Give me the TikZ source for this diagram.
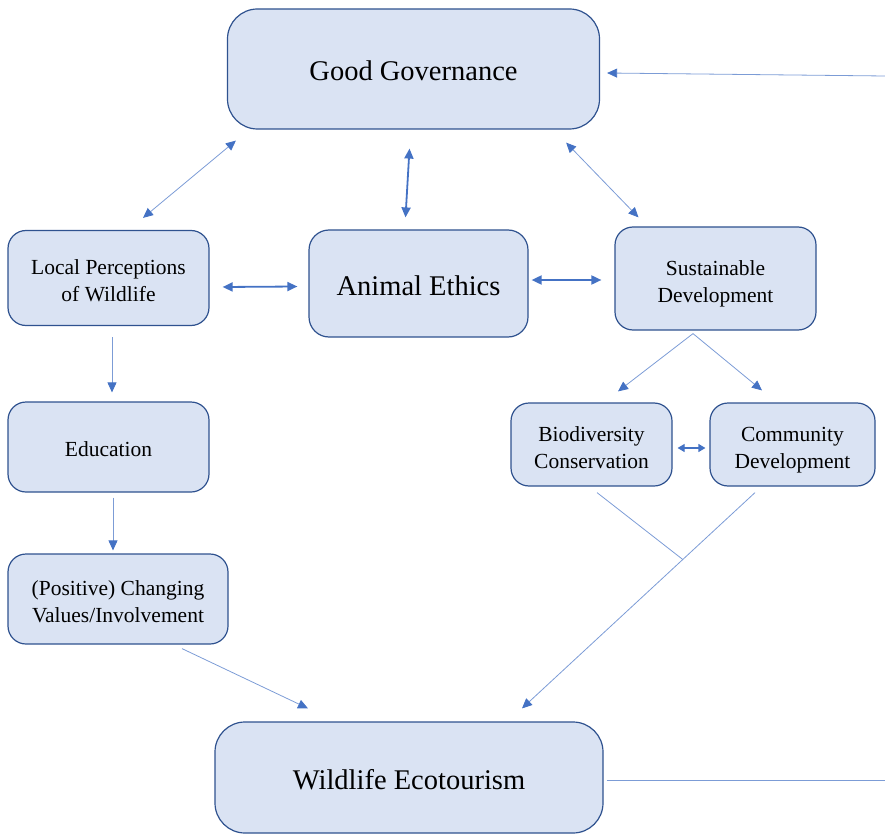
\documentclass[tikz,border=0pt]{standalone}
\usepackage{fontspec}
\setmainfont{Liberation Serif}
\usetikzlibrary{arrows.meta,calc}
\definecolor{boxfill}{HTML}{DAE3F3}
\definecolor{boxline}{HTML}{2F528F}
\definecolor{arrowblue}{HTML}{4472C4}
\begin{document}
\begin{tikzpicture}[x=1pt,y=-1pt]
\tikzset{box/.style = {shape=rectangle,rounded corners=18pt,draw=boxline,fill=boxfill,line width=1.2pt,inner sep=0pt,align=center,text height=20pt,font=\fontsize{21.5}{27}\selectfont}}
\tikzset{twoline/.style = {box,text height=52pt,text depth=5pt}}
\tikzset{bigbox/.style = {box,rounded corners=30pt,text height=24pt,font=\fontsize{28.5}{34}\selectfont}}
\tikzset{edge/.style = {draw=arrowblue!70,line width=0.8pt,-{Triangle[length=10pt,width=9pt,color=arrowblue]}}}
\tikzset{biedge/.style = {edge,{Triangle[length=10pt,width=9pt,color=arrowblue]}-{Triangle[length=10pt,width=9pt,color=arrowblue]}}}
\tikzset{thickedge/.style = {biedge,draw=arrowblue,line width=1.8pt}}
\useasboundingbox (0,0) rectangle (885,834);
\node[bigbox,minimum width=372,minimum height=120] (gg) at (413.5,69) {Good Governance};
\node[twoline,minimum width=201,minimum height=95] (lp) at (108.5,278) {Local Perceptions\\of Wildlife};
\node[bigbox,rounded corners=20pt,minimum width=219,minimum height=107] (ae) at (418.5,283.5) {Animal Ethics};
\node[twoline,minimum width=201,minimum height=103] (sd) at (715.5,278.5) {Sustainable\\Development};
\node[box,minimum width=201,minimum height=90] (edu) at (108.5,447) {Education};
\node[twoline,minimum width=220,minimum height=90] (pcv) at (118,599) {(Positive) Changing\\Values/Involvement};
\node[twoline,minimum width=161,minimum height=83] (bc) at (591.5,444.5) {Biodiversity\\Conservation};
\node[twoline,minimum width=165,minimum height=83] (cd) at (792.5,444.5) {Community\\Development};
\node[bigbox,minimum width=388,minimum height=111] (we) at (409,777.5) {Wildlife Ecotourism};
% loose ends on the right
\coordinate (ggin) at (885,76);
\coordinate (weout) at (885,780);
% ends of the lines into Wildlife Ecotourism
\coordinate (cdout) at ($(cd.south)+(-37.5,6)$);
\coordinate (wein) at ($(we.north)+(113,-13)$);
\coordinate (join) at ($(cdout)!0.31!(wein)$);
\draw[biedge] ($(gg.south west)+(9,11)$) -- ($(lp.north)+(34.5,-12)$);
\draw[thickedge] ($(gg.south)+(-4,19)$) -- ($(ae.north)+(-13,-12)$);
\draw[biedge] ($(gg.south east)+(-34,13)$) -- ($(sd.north)+(-77,-9)$);
\draw[edge] (ggin) -- ($(gg.east)+(7,4)$);
\draw[thickedge] ($(lp.east)+(13,9)$) -- ($(ae.west)+(-11,3)$);
\draw[thickedge] ($(ae.east)+(3,-3.5)$) -- ($(sd.west)+(-13,1.5)$);
\draw[edge] ($(lp.south)+(3.5,11)$) -- ($(edu.north)+(3.5,-9)$);
\draw[edge] ($(edu.south)+(4.5,5)$) -- ($(pcv.north)+(-5,-3)$);
\draw[edge] ($(pcv.south)+(64,4)$) -- ($(we.north)+(-101,-13)$);
\draw[edge] ($(sd.south)+(-22.5,3)$) -- ($(bc.north)+(26.5,-11)$);
\draw[edge] ($(sd.south)+(-22.5,3)$) -- ($(cd.north)+(-30.5,-12)$);
\draw[thickedge,line width=1.2pt,{Triangle[length=7pt,width=8pt,color=arrowblue]}-{Triangle[length=7pt,width=8pt,color=arrowblue]}] ($(bc.east)+(5,3.5)$) -- ($(cd.west)+(-4,3.5)$);
\draw[edge] (cdout) -- (wein);
\draw[draw=arrowblue!70,line width=0.8pt] ($(bc.south)+(5.5,6)$) -- (join);
\draw[draw=arrowblue!70,line width=0.8pt] ($(we.east)+(3,2.5)$) -- (weout);
\end{tikzpicture}
\end{document}
